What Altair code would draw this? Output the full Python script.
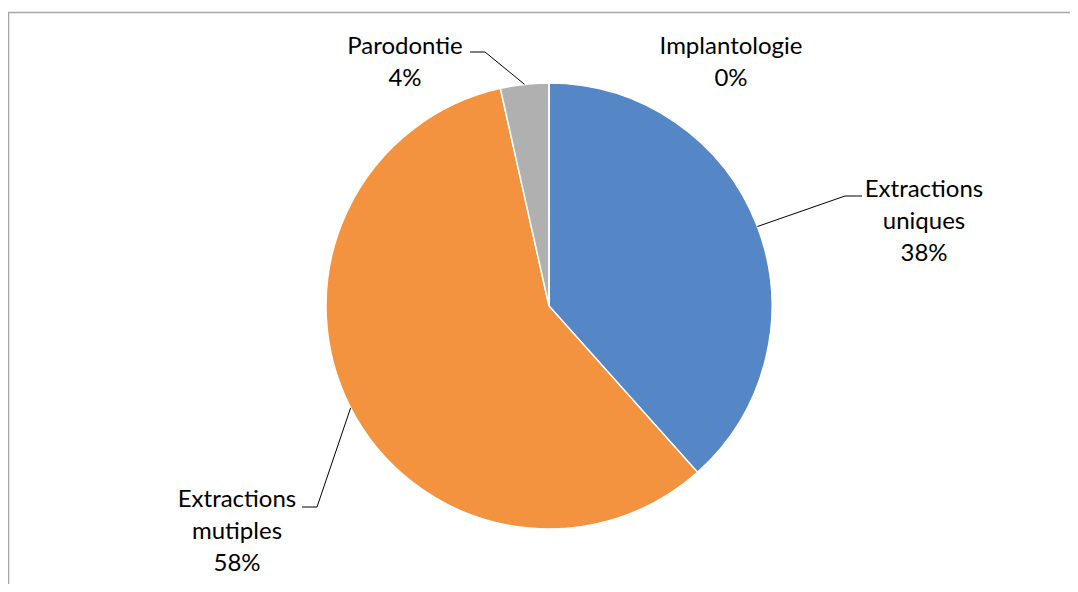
import math
import altair as alt
import pandas as pd

# ---- data ----
categories = ["Extractions uniques", "Extractions mutiples", "Parodontie", "Implantologie"]
label_names = ["Extractions\nuniques", "Extractions\nmutiples", "Parodontie", "Implantologie"]
values = [38.4, 58.1, 3.5, 0.0]
colors = ["#5586C6", "#F39340", "#B0B0B0", "#FFC000"]

# ---- layout (chart pixel coordinates, page offset 8px) ----
W, H = 1062, 576
CX, CY, R = 541, 298, 223
FONT = "Lato"
label_pos = {  # centre x and first-line y of each label
    "Extractions uniques": (916, 182),
    "Extractions mutiples": (229, 492),
    "Parodontie": (397, 39),
    "Implantologie": (723, 39),
}
leader = {  # elbow and end point of leader lines (None = no leader)
    "Extractions uniques": [(837, 188), (854, 188)],
    "Extractions mutiples": [(309, 499), (294, 499)],
    "Parodontie": [(477, 44), (462, 44)],
    "Implantologie": None,
}

total = sum(values)
df = pd.DataFrame({"cat": categories, "value": values, "order": range(len(values))})

lab_rows, line_rows = [], []
cum = 0.0
for name, lname, v in zip(categories, label_names, values):
    mid = (cum + v / 2) / total * 2 * math.pi
    cum += v
    pct = f"{round(v / total * 100)}%"
    lx, ly = label_pos[name]
    lab_rows.append({"cat": name, "x": lx, "y": ly, "text": (lname + "\n" + pct).split("\n")})
    if leader[name]:
        sx = CX + R * math.sin(mid)
        sy = CY - R * math.cos(mid)
        pts = [(sx, sy)] + leader[name]
        for i, (px, py) in enumerate(pts):
            line_rows.append({"cat": name, "i": i, "x": px, "y": py})

labels = pd.DataFrame(lab_rows)
lines = pd.DataFrame(line_rows)

color_scale = alt.Scale(domain=categories, range=colors)

one = pd.DataFrame({"a": [0]})
border_top = alt.Chart(one).mark_rule(color="#A6A6A6", strokeWidth=1.5).encode(
    x=alt.value(0), x2=alt.value(W + 20), y=alt.value(4.5)
)
border_left = alt.Chart(one).mark_rule(color="#A6A6A6", strokeWidth=1.5).encode(
    x=alt.value(0.5), y=alt.value(4), y2=alt.value(H + 20)
)

pie = alt.Chart(df).mark_arc(outerRadius=R, stroke="white", strokeWidth=1.5).encode(
    theta=alt.Theta("value:Q", stack=True),
    color=alt.Color("cat:N", scale=color_scale, legend=None),
    order=alt.Order("order:Q", sort="ascending"),
    x=alt.value(CX),
    y=alt.value(CY),
)

leaders = alt.Chart(lines).mark_line(color="black", strokeWidth=1).encode(
    x=alt.X("x:Q", scale=None),
    y=alt.Y("y:Q", scale=None),
    detail="cat:N",
    order="i:Q",
)

text = alt.Chart(labels).mark_text(
    font=FONT, fontSize=24, color="#000000", align="center", baseline="middle", lineHeight=32
).encode(
    x=alt.X("x:Q", scale=None),
    y=alt.Y("y:Q", scale=None),
    text="text",
)

chart = alt.layer(border_top, border_left, pie, leaders, text).properties(
    width=W, height=H, autosize=alt.AutoSizeParams(type="none"), padding=0
).configure_view(stroke=None)

chart.save("out.html", embed_options={"renderer": "svg", "actions": False})
